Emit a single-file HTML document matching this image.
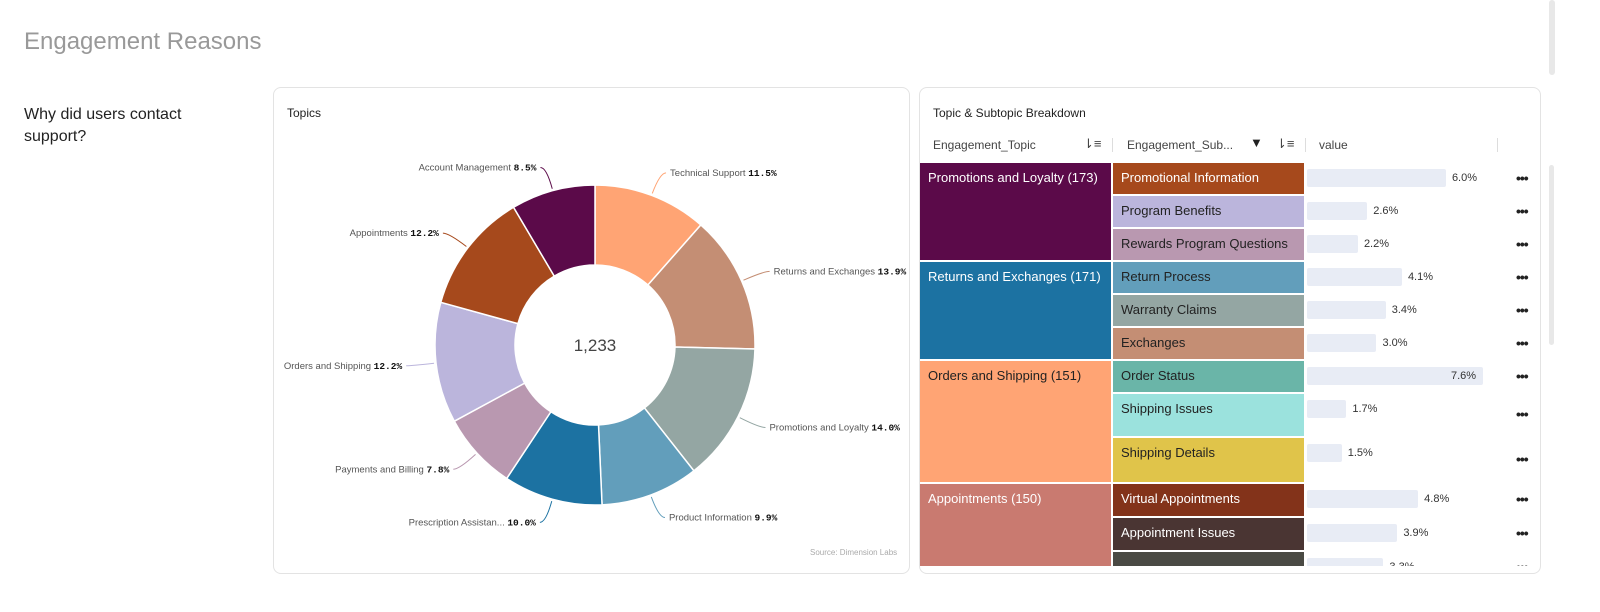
<!DOCTYPE html>
<html><head><meta charset="utf-8"><style>
body{margin:0;width:1600px;height:612px;background:#fff;font-family:"Liberation Sans",sans-serif;overflow:hidden;position:relative}
.abs{position:absolute}
.card{position:absolute;border:1px solid #e3e3e3;border-radius:8px;background:#fff}
.cell{position:absolute;font-size:13px;padding:7px 0 0 8px;box-sizing:border-box;border-bottom:2px solid #fff}
.dots{position:absolute;left:1516px;font-size:14px;font-weight:bold;letter-spacing:-1px;color:#222}
</style></head><body>
<div class="abs" style="left:24px;top:28px;font-size:24px;color:#999">Engagement Reasons</div>
<div class="abs" style="left:1549px;top:0;width:6px;height:75px;background:#e8e8e8;border-radius:3px"></div>
<div class="abs" style="left:24px;top:104px;font-size:16px;line-height:22px;color:#222;width:200px">Why did users contact<br>support?</div>
<div class="card" style="left:273px;top:87px;width:635px;height:485px"></div>
<div class="abs" style="left:287px;top:106px;font-size:12px;color:#222">Topics</div>
<svg class="abs" style="left:0;top:0" width="910" height="612" id="donut"></svg>
<div class="abs" style="left:810px;top:548px;font-size:8px;color:#aaa">Source: Dimension Labs</div>
<div class="card" style="left:919px;top:87px;width:620px;height:485px;overflow:hidden"></div>
<div class="abs" style="left:933px;top:106px;font-size:12px;color:#222">Topic &amp; Subtopic Breakdown</div>
<div class="abs" style="left:933px;top:138px;font-size:12px;color:#444">Engagement_Topic</div>
<div class="abs" style="left:1083px;top:136px;font-size:13px;color:#444">⇂≡</div>
<div class="abs" style="left:1112px;top:138px;width:1px;height:14px;background:#ddd"></div>
<div class="abs" style="left:1127px;top:138px;font-size:12px;color:#444">Engagement_Sub...</div>
<div class="abs" style="left:1250px;top:135px;font-size:13px;color:#222">▼</div>
<div class="abs" style="left:1276px;top:136px;font-size:13px;color:#444">⇂≡</div>
<div class="abs" style="left:1305px;top:138px;width:1px;height:14px;background:#ddd"></div>
<div class="abs" style="left:1319px;top:138px;font-size:12px;color:#444">value</div>
<div class="abs" style="left:1497px;top:138px;width:1px;height:14px;background:#ddd"></div>
<div class="abs" style="left:1549px;top:165px;width:5px;height:180px;background:#e8e8e8;border-radius:3px"></div>
<div id="table" class="abs" style="left:0;top:0;width:1600px;height:566px;overflow:hidden"></div>
<script>
const categories=["Technical Support","Returns and Exchanges","Promotions and Loyalty","Product Information","Prescription Assistan...","Payments and Billing","Orders and Shipping","Appointments","Account Management"];
const values=[11.5,13.9,14.0,9.9,10.0,7.8,12.2,12.2,8.5];
const colors=["#FFA474","#C48E74","#94A6A3","#629EBB","#1C72A2","#B998B0","#BBB5DC","#A6491C","#5B0A49"];
const total="1,233";
const NS="http://www.w3.org/2000/svg";
const svg=document.getElementById('donut');
const cx=595,cy=345,R=160,r=80;
const sum=values.reduce((a,b)=>a+b,0);
function pt(a,rad){return [cx+rad*Math.sin(a),cy-rad*Math.cos(a)];}
let acc=0;
values.forEach((v,i)=>{
 const a0=acc/sum*2*Math.PI;acc+=v;const a1=acc/sum*2*Math.PI;
 const l=(a1-a0)>Math.PI?1:0;
 const [x0,y0]=pt(a0,R),[x1,y1]=pt(a1,R),[x2,y2]=pt(a1,r),[x3,y3]=pt(a0,r);
 const p=document.createElementNS(NS,'path');
 p.setAttribute('d',`M${x0},${y0}A${R},${R} 0 ${l} 1 ${x1},${y1}L${x2},${y2}A${r},${r} 0 ${l} 0 ${x3},${y3}Z`);
 p.setAttribute('fill',colors[i]);p.setAttribute('stroke','#fff');p.setAttribute('stroke-width','1.5');
 
 
 svg.appendChild(p);
 const am=(a0+a1)/2;const [lx,ly]=pt(am,R+2);const [ex,ey]=pt(am,R+24);
 const right=Math.sin(am)>=0;const hx=ex+(right?6:-6);
 const ln=document.createElementNS(NS,'path');
 ln.setAttribute('d',`M${lx},${ly}Q${ex},${ey} ${hx},${ey}`);ln.setAttribute('fill','none');ln.setAttribute('stroke',colors[i]);
 svg.appendChild(ln);
 const t=document.createElementNS(NS,'text');
 t.setAttribute('x',right?hx+4:hx-4);t.setAttribute('y',ey+3);t.setAttribute('font-size','9.5');
 t.setAttribute('text-anchor',right?'start':'end');t.setAttribute('fill','#555');
 
 
 t.innerHTML=categories[i]+' <tspan font-family="Liberation Mono" font-weight="bold" fill="#111">'+v.toFixed(1)+'%</tspan>';
 svg.appendChild(t);
});
const ct=document.createElementNS(NS,'text');
ct.setAttribute('x',cx);ct.setAttribute('y',cy+6);ct.setAttribute('text-anchor','middle');ct.setAttribute('font-size','17');ct.setAttribute('fill','#444');


ct.textContent=total;svg.appendChild(ct);

const topics=["Promotions and Loyalty (173)","Returns and Exchanges (171)","Orders and Shipping (151)","Appointments (150)"];
const topicColors=["#5B0A49","#1C72A2","#FFA474","#C97A70"];
const topicText=["#fff","#fff","#222","#fff"];
const subtopics=["Promotional Information","Program Benefits","Rewards Program Questions","Return Process","Warranty Claims","Exchanges","Order Status","Shipping Issues","Shipping Details","Virtual Appointments","Appointment Issues",""];
const subTopicIdx=[0,0,0,1,1,1,2,2,2,3,3,3];
const subValues=[6.0,2.6,2.2,4.1,3.4,3.0,7.6,1.7,1.5,4.8,3.9,3.3];
const subColors=["#A6491C","#BBB5DC","#B998B0","#629EBB","#94A6A3","#C48E74","#6AB5A8","#9BE2DD","#E0C44A","#83331A","#4A3533","#4A4A44"];
const subText=["#fff","#222","#222","#222","#222","#222","#222","#222","#222","#fff","#fff","#fff"];
const rowH=[33,33,33,33,33,33,33,44,46,34,34,34];
const tbl=document.getElementById('table');
const top0=163,barX=1307,barMax=176,vmax=Math.max(...subValues);
let y=top0;const tStart=[],tEnd=[];
subtopics.forEach((s,i)=>{
 const ti=subTopicIdx[i];if(tStart[ti]===undefined)tStart[ti]=y;
 const c=document.createElement('div');c.className='cell';
 
 
 c.style.cssText+=`left:1113px;top:${y}px;width:191px;height:${rowH[i]}px;background:${subColors[i]};color:${subText[i]}`;
 c.textContent=s;tbl.appendChild(c);
 const w=subValues[i]/vmax*barMax;
 const b=document.createElement('div');b.className='abs';
 
 
 b.style.cssText=`left:${barX}px;top:${y+6}px;width:${w}px;height:18px;background:#E8ECF5;border-radius:2px`;
 tbl.appendChild(b);
 const lab=document.createElement('div');lab.className='abs';
 
 
 const inside=subValues[i]===vmax;
 lab.style.cssText=`left:${inside?barX+w-32:barX+w+6}px;top:${y+9}px;font-size:11px;color:#333`;
 lab.textContent=subValues[i].toFixed(1)+'%';tbl.appendChild(lab);
 const d=document.createElement('div');d.className='dots';
 
 
 d.style.top=(y+rowH[i]/2-10)+'px';d.textContent='•••';tbl.appendChild(d);
 y+=rowH[i];tEnd[ti]=y;
});
topics.forEach((t,i)=>{
 const c=document.createElement('div');c.className='cell';
 
 
 c.style.cssText+=`left:920px;top:${tStart[i]}px;width:191px;height:${tEnd[i]-tStart[i]}px;background:${topicColors[i]};color:${topicText[i]}`;
 c.textContent=t;tbl.appendChild(c);
});
</script>
</body></html>
